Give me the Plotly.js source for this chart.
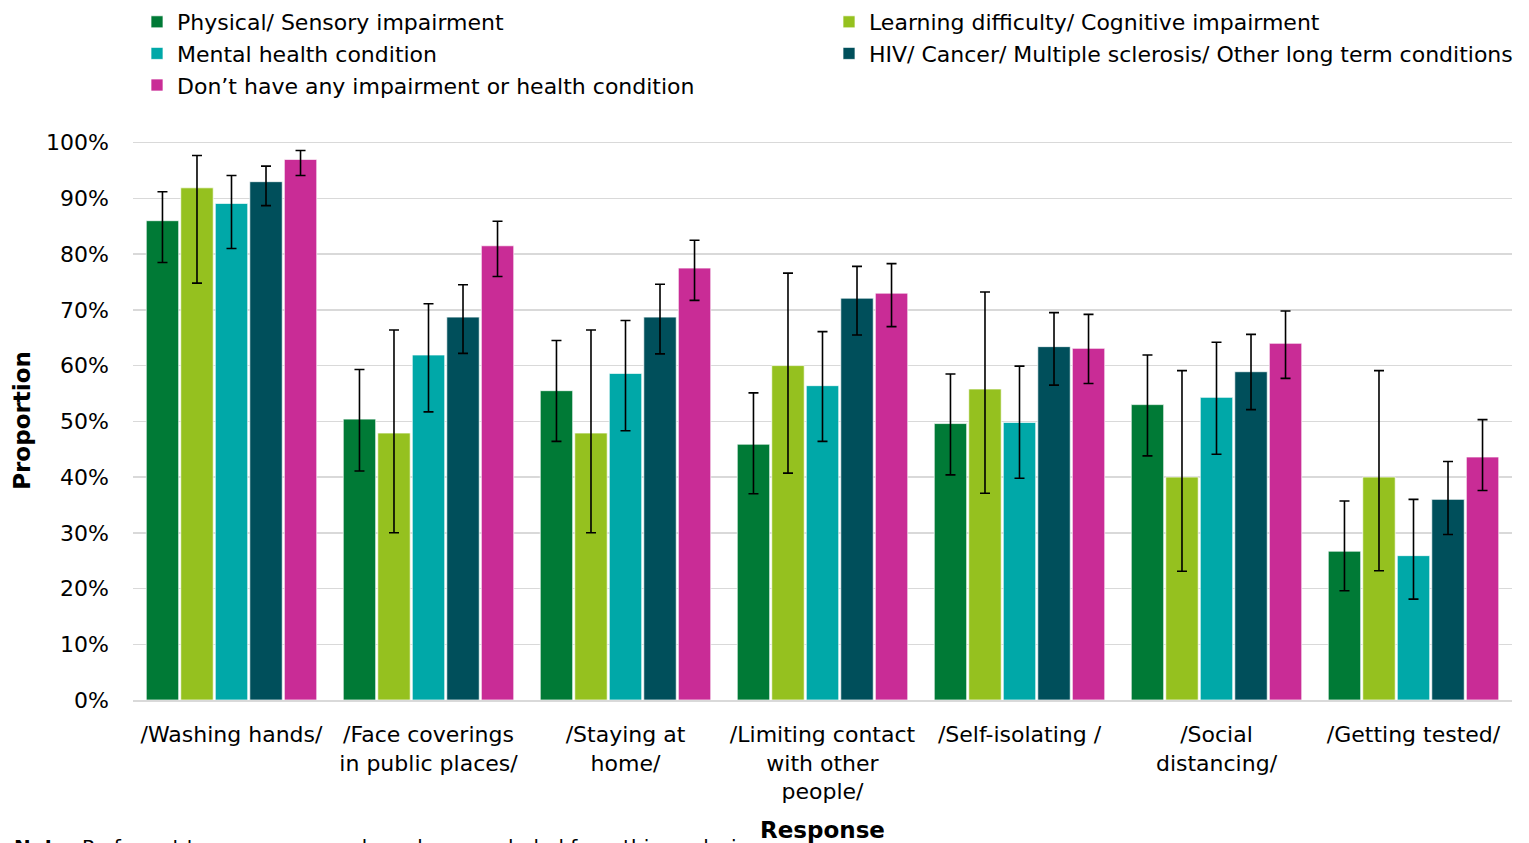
<!DOCTYPE html>
<html>
<head>
<meta charset="utf-8">
<script src="https://cdn.plot.ly/plotly-3.0.1.min.js"></script>
<style>html,body{margin:0;padding:0;background:#fff}#chart{width:1529px;height:843px}</style>
</head>
<body>
<div id="chart"></div>
<script>
const categories = ["/Washing hands/", "/Face coverings<br>in public places/", "/Staying at<br>home/", "/Limiting contact<br>with other<br>people/", "/Self-isolating /", "/Social<br>distancing/", "/Getting tested/"];
const seriesNames = ["Physical/ Sensory impairment", "Learning difficulty/ Cognitive impairment", "Mental health condition", "HIV/ Cancer/ Multiple sclerosis/ Other long term conditions", "Don\u2019t have any impairment or health condition"];
const seriesColors = ["#007a36", "#95c11f", "#00a8a8", "#004f5b", "#c92c96"];

const physical   = [86.0, 50.4, 55.5, 45.9, 49.6, 53.0, 26.7];
const learning   = [91.9, 47.9, 47.9, 60.0, 55.8, 40.0, 40.0];
const mental     = [89.1, 61.9, 58.6, 56.4, 49.8, 54.3, 25.9];
const hiv        = [93.0, 68.7, 68.7, 72.1, 63.4, 58.9, 36.0];
const noImpair   = [97.0, 81.5, 77.5, 73.0, 63.1, 64.0, 43.6];

const physicalHi = [91.2, 59.3, 64.5, 55.1, 58.5, 61.9, 35.7];
const physicalLo = [78.5, 41.1, 46.4, 37.0, 40.4, 43.8, 19.6];
const learningHi = [97.7, 66.4, 66.4, 76.6, 73.2, 59.1, 59.1];
const learningLo = [74.8, 30.0, 30.0, 40.7, 37.1, 23.1, 23.2];
const mentalHi   = [94.1, 71.1, 68.1, 66.1, 59.9, 64.2, 36.0];
const mentalLo   = [81.0, 51.7, 48.3, 46.4, 39.8, 44.1, 18.1];
const hivHi      = [95.8, 74.5, 74.6, 77.8, 69.5, 65.6, 42.8];
const hivLo      = [88.7, 62.2, 62.1, 65.5, 56.5, 52.1, 29.7];
const noImpairHi = [98.6, 85.9, 82.5, 78.3, 69.2, 69.8, 50.3];
const noImpairLo = [94.1, 76.0, 71.7, 67.0, 56.8, 57.7, 37.6];

const values = [physical, learning, mental, hiv, noImpair];
const highs = [physicalHi, learningHi, mentalHi, hivHi, noImpairHi];
const lows = [physicalLo, learningLo, mentalLo, hivLo, noImpairLo];
const legendOf = ["legend", "legend2", "legend", "legend2", "legend"];

const FONT = "'DejaVu Sans', Verdana, sans-serif";

const traces = values.map((v, i) => ({
  type: "bar",
  name: seriesNames[i],
  x: categories,
  y: v,
  legend: legendOf[i],
  marker: {color: seriesColors[i], line: {color: "rgba(255,255,255,0.7)", width: 1}},
  error_y: {
    type: "data",
    symmetric: false,
    array: v.map((y, j) => highs[i][j] - y),
    arrayminus: v.map((y, j) => y - lows[i][j]),
    color: "#000000",
    thickness: 1.6,
    width: 5
  }
}));

const W = 1529, H = 843;
const mL = 133, mR = 17, mT = 141, mB = 143;
const plotW = W - mL - mR, plotH = H - mT - mB;

const layout = {
  width: W,
  height: H,
  margin: {l: mL, r: mR, t: mT, b: mB, autoexpand: false},
  paper_bgcolor: "#ffffff",
  plot_bgcolor: "#ffffff",
  font: {family: FONT, size: 22, color: "#000000"},
  barmode: "group",
  bargap: 0.124,
  bargroupgap: 0.06,
  showlegend: true,
  legend: {
    orientation: "v",
    x: (137 - mL) / plotW, xanchor: "left",
    y: 1 + (mT - 1) / plotH, yanchor: "top",
    font: {family: FONT, size: 22, color: "#000"},
    tracegroupgap: 0, itemwidth: 30, bgcolor: "rgba(0,0,0,0)"
  },
  legend2: {
    orientation: "v",
    x: (829 - mL) / plotW, xanchor: "left",
    y: 1 + (mT - 1) / plotH, yanchor: "top",
    font: {family: FONT, size: 22, color: "#000"},
    tracegroupgap: 0, itemwidth: 30, bgcolor: "rgba(0,0,0,0)"
  },
  xaxis: {
    type: "category",
    tickfont: {family: FONT, size: 22, color: "#000"},
    ticks: "",
    showline: true,
    linecolor: "#d9d9d9",
    linewidth: 1.5,
    automargin: false,
    ticklabelstandoff: 14,
    title: {text: "<b>Response</b>", font: {family: FONT, size: 23, color: "#000"}, standoff: 22}
  },
  yaxis: {
    range: [0, 100.3],
    tick0: 0,
    dtick: 10,
    ticksuffix: "%",
    tickfont: {family: FONT, size: 22, color: "#000"},
    showgrid: true,
    gridcolor: "#d9d9d9",
    gridwidth: 1.5,
    zeroline: false,
    ticks: "",
    automargin: false,
    ticklabelstandoff: 23,
    title: {text: "<b>Proportion</b>", font: {family: FONT, size: 23, color: "#000"}, standoff: 9}
  },
  annotations: [{
    text: "<b>Note:</b> Prefer not to say responses have been excluded from this analysis",
    xref: "paper", yref: "paper", x: -0.088, y: -0.2375,
    xanchor: "left", yanchor: "top", showarrow: false,
    font: {family: FONT, size: 20, color: "#000"}
  }]
};

Plotly.newPlot("chart", traces, layout, {displayModeBar: false, staticPlot: true});
</script>
</body>
</html>
